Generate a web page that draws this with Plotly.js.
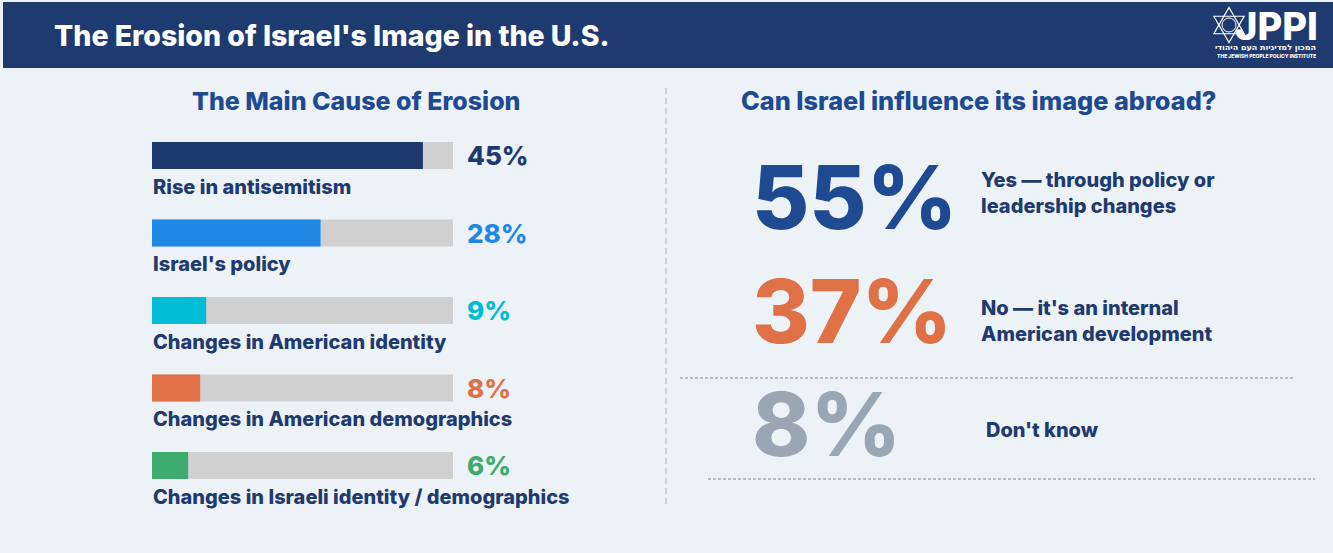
<!DOCTYPE html>
<html>
<head>
<meta charset="utf-8">
<script src="https://cdn.plot.ly/plotly-3.0.1.min.js"></script>
<style>html,body{margin:0;padding:0;background:#edf2f7;}#chart{width:1333px;height:553px;}</style>
</head>
<body>
<div id="chart"></div>
<script>
// ---- data ----
const pageTitle = "The Erosion of Israel's Image in the U.S.";
const leftTitle = "The Main Cause of Erosion";
const rightTitle = "Can Israel influence its image abroad?";
const causes = ["Rise in antisemitism", "Israel's policy", "Changes in American identity", "Changes in American demographics", "Changes in Israeli identity / demographics"];
const causeValues = [45, 28, 9, 8, 6];
const trackMax = 50;
const answerValues = [55, 37, 8];
const answerLabels = ["Yes \u2014 through policy or<br>leadership changes", "No \u2014 it's an internal<br>American development", "Don't know"];

// ---- styles ----
const causeColors = ["#1c3a6e", "#1f88e5", "#00bcd4", "#e07045", "#3daa6e"];
const answerColors = ["#1e4a91", "#e07045", "#9ba6b5"];
const NAVY = "#1f3a6e";
const FONT = "Inter, Roboto, 'DejaVu Sans', sans-serif";
const WT = 800;
const W = 1333, H = 553;
const px = x => x / W, py = y => 1 - y / H;
const f = (size, color) => ({family: FONT, size: size, color: color, weight: WT});

const traces = [
  {type: 'bar', orientation: 'h', y: causes, x: causes.map(() => trackMax),
   marker: {color: '#d0d0d0', line: {width: 0}}, width: 0.35, hoverinfo: 'skip', showlegend: false},
  {type: 'bar', orientation: 'h', y: causes, x: causeValues,
   marker: {color: causeColors, line: {width: 0}}, width: 0.35, hoverinfo: 'skip', showlegend: false}
];

const annotations = [];
annotations.push({xref: 'paper', yref: 'paper', x: px(52), y: py(35), xanchor: 'left', yanchor: 'middle',
  text: pageTitle, showarrow: false, font: f(28.5, '#ffffff')});
annotations.push({xref: 'paper', yref: 'paper', x: px(357), y: py(101), xanchor: 'center', yanchor: 'middle',
  text: leftTitle, showarrow: false, font: f(25, '#1e4a91')});
annotations.push({xref: 'paper', yref: 'paper', x: px(978.5), y: py(101), xanchor: 'center', yanchor: 'middle',
  text: rightTitle, showarrow: false, font: f(25.3, '#1e4a91')});

causes.forEach((c, i) => {
  annotations.push({xref: 'paper', yref: 'y', x: px(151), y: c, yshift: -31, xanchor: 'left', yanchor: 'middle',
    text: c, showarrow: false, font: f(20, NAVY)});
  annotations.push({xref: 'paper', yref: 'y', x: px(465), y: c, xanchor: 'left', yanchor: 'middle',
    text: causeValues[i] + '%', showarrow: false, font: f(26, i === 0 ? NAVY : causeColors[i])});
});

const bigY = [197, 311, 424];
const lblY = [193, 321, 430];
const lblX = [979, 979, 984];
answerValues.forEach((v, i) => {
  annotations.push({xref: 'paper', yref: 'paper', x: px(750), y: py(bigY[i]), xanchor: 'left', yanchor: 'middle',
    text: v + '%', showarrow: false, font: f(88, answerColors[i])});
  annotations.push({xref: 'paper', yref: 'paper', x: px(lblX[i]), y: py(lblY[i]), xanchor: 'left', yanchor: 'middle', align: 'left',
    text: answerLabels[i], showarrow: false, font: f(20, NAVY)});
});

// logo text
annotations.push({xref: 'paper', yref: 'paper', x: px(1320), y: py(26), xanchor: 'right', yanchor: 'middle', height: 32,
  text: 'JPPI', showarrow: false, font: f(38, '#ffffff')});
annotations.push({xref: 'paper', yref: 'paper', x: px(1318), y: py(47.5), xanchor: 'right', yanchor: 'middle', height: 9,
  text: '<b>המכון למדיניות העם היהודי</b>', showarrow: false, font: {family: "'DejaVu Sans', sans-serif", size: 8, color: '#ffffff'}});
annotations.push({xref: 'paper', yref: 'paper', x: px(1318), y: py(56), xanchor: 'right', yanchor: 'middle', height: 7,
  text: 'THE JEWISH PEOPLE POLICY INSTITUTE', showarrow: false, font: f(5, '#ffffff')});

const cx = 1229, cy = 25, r = 17.5;
const tri = (dir) => {
  const pts = [0, 120, 240].map(a => {
    const ang = (a + (dir > 0 ? -90 : 90)) * Math.PI / 180;
    return [px(cx + r * Math.cos(ang)), py(cy + r * Math.sin(ang))];
  });
  return 'M' + pts.map(p => p[0] + ',' + p[1]).join(' L') + ' Z';
};

const shapes = [
  {type: 'rect', xref: 'paper', yref: 'paper', x0: px(3), x1: 1, y0: py(68), y1: py(2), fillcolor: '#1f3a6e', line: {width: 0}, layer: 'below'},
  {type: 'line', xref: 'paper', yref: 'paper', x0: px(666), x1: px(666), y0: py(88), y1: py(508), line: {color: '#c8ccd3', width: 1.5, dash: '6px,4px'}},
  {type: 'line', xref: 'paper', yref: 'paper', x0: px(680), x1: px(1293), y0: py(378), y1: py(378), line: {color: '#a3abb7', width: 1.5, dash: '3px,2px'}},
  {type: 'line', xref: 'paper', yref: 'paper', x0: px(708), x1: px(1315), y0: py(479), y1: py(479), line: {color: '#a3abb7', width: 1.5, dash: '3px,2px'}},
  {type: 'path', xref: 'paper', yref: 'paper', path: tri(1), line: {color: '#ffffff', width: 1.2}},
  {type: 'path', xref: 'paper', yref: 'paper', path: tri(-1), line: {color: '#ffffff', width: 1.2}},
  {type: 'circle', xref: 'paper', yref: 'paper', x0: px(cx - 7), x1: px(cx + 7), y0: py(cy + 7), y1: py(cy - 7), line: {color: '#ffffff', width: 1}}
];

const layout = {
  width: W, height: H, autosize: false,
  margin: {l: 0, r: 0, t: 0, b: 0},
  paper_bgcolor: '#edf2f7', plot_bgcolor: 'rgba(0,0,0,0)',
  barmode: 'overlay', showlegend: false,
  xaxis: {domain: [px(152), px(453)], range: [0, trackMax], visible: false, fixedrange: true},
  yaxis: {domain: [py(504.25), py(116.75)], type: 'category', range: [4.5, -0.5], autorange: false, visible: false, fixedrange: true},
  annotations: annotations, shapes: shapes
};

Plotly.newPlot('chart', traces, layout, {displayModeBar: false, staticPlot: true});
</script>
</body>
</html>
